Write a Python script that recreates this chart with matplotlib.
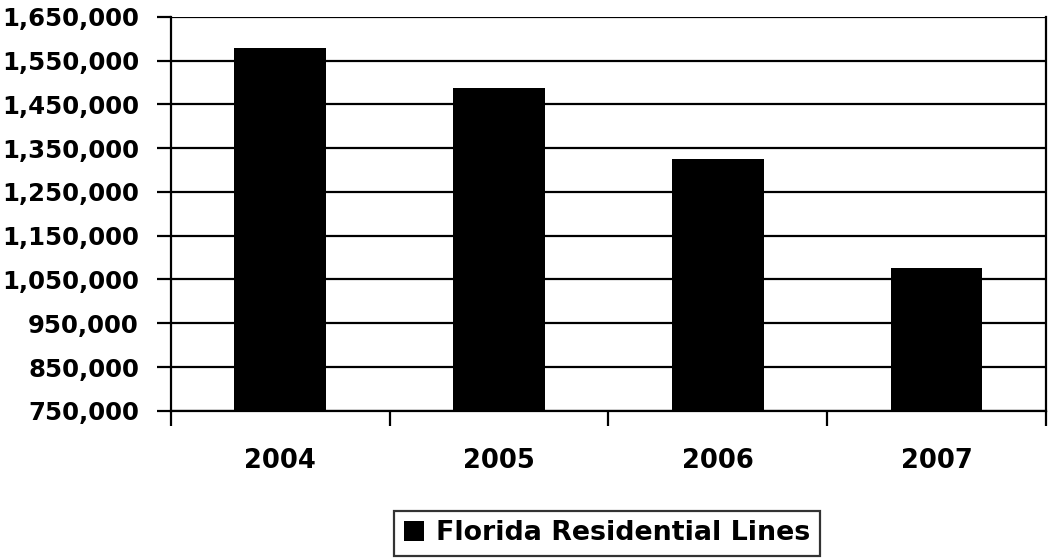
import numpy as np
import matplotlib.pyplot as plt
from matplotlib.ticker import FuncFormatter, FixedLocator

# Florida residential access lines by year
years = ["2004", "2005", "2006", "2007"]
lines = [1579000, 1486500, 1324500, 1075500]
series_name = "Florida Residential Lines"

ymin, ymax, ystep = 750000, 1650000, 100000

plt.rcParams["font.family"] = "DejaVu Sans"
plt.rcParams["font.weight"] = "bold"

fig = plt.figure(figsize=(10.48, 5.59), dpi=100)
ax = fig.add_axes([0.163, 0.265, 0.835, 0.705])

x = np.arange(len(years))
ax.bar(x, lines, width=0.42, color="black", label=series_name, zorder=3)

ax.set_ylim(ymin, ymax)
ax.set_xlim(-0.5, len(years) - 0.5)
ax.set_yticks(np.arange(ymin, ymax + 1, ystep))
ax.yaxis.set_major_formatter(FuncFormatter(lambda v, p: "{:,.0f}".format(v)))
ax.grid(axis="y", color="black", linewidth=1.6, zorder=1)

# category labels in the middle, tick marks at the boundaries
ax.xaxis.set_major_locator(FixedLocator(np.arange(-0.5, len(years), 1.0)))
ax.xaxis.set_major_formatter(FuncFormatter(lambda v, p: ""))
ax.xaxis.set_minor_locator(FixedLocator(x))
ax.set_xticklabels(years, minor=True)
ax.tick_params(axis="x", which="minor", length=0, pad=27, labelsize=18.5)
ax.tick_params(axis="x", which="major", length=11, width=1.6, direction="out")
ax.tick_params(axis="y", length=10, width=1.6, direction="out", labelsize=17.6, pad=13)

for side in ["left", "right", "bottom", "top"]:
    ax.spines[side].set_linewidth(1.6)
    ax.spines[side].set_zorder(4)
ax.spines["top"].set_visible(False)

leg = fig.legend(loc="center", bbox_to_anchor=(0.579, 0.046), frameon=True,
                 fancybox=False, edgecolor="black", fontsize=19.4,
                 handlelength=0.75, handleheight=0.75, handletextpad=0.45,
                 borderpad=0.35, borderaxespad=0)
leg.get_frame().set_linewidth(1.6)

fig.savefig("out.png", dpi=100, facecolor="white")
